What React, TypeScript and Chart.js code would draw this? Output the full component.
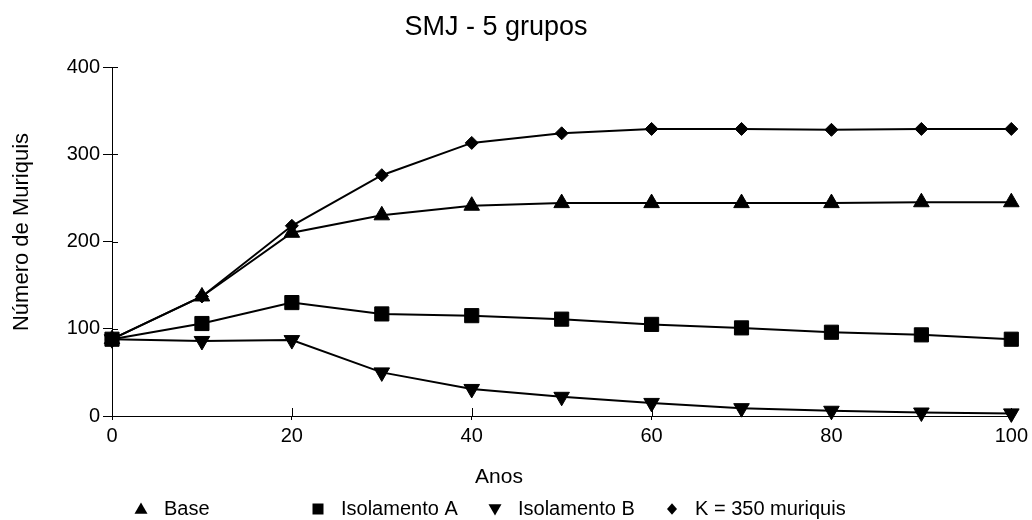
import { useEffect, useRef } from 'react';
import { Chart, registerables } from 'chart.js';

Chart.register(...registerables);

const years = [0, 10, 20, 30, 40, 50, 60, 70, 80, 90, 100];
const baseValues = [88, 137, 210, 230, 241, 244, 244, 244, 244, 245, 245];
const isolAValues = [88, 106, 130, 117, 115, 111, 105, 101, 96, 93, 88];
const isolBValues = [88, 86, 87, 50, 31, 22, 15, 9, 6, 4, 3];
const kValues = [88, 137, 218, 276, 313, 324, 329, 329, 328, 329, 329];
const seriesLabels = ['Base', 'Isolamento A', 'Isolamento B', 'K = 350 muriquis'];
const titleText = 'SMJ - 5 grupos';
const xTitle = 'Anos';
const yTitle = 'Número de Muriquis';

const FONT = '"Liberation Sans", Arial, Helvetica, sans-serif';

const toPoints = (vals: number[]) => vals.map((v, i) => ({ x: years[i], y: v }));

function drawMarker(ctx: CanvasRenderingContext2D, style: string, x: number, y: number, r: number) {
  ctx.beginPath();
  if (style === 'triangle') {
    ctx.moveTo(x, y - r);
    ctx.lineTo(x + r * 0.866, y + r / 2);
    ctx.lineTo(x - r * 0.866, y + r / 2);
  } else if (style === 'triangleDown') {
    ctx.moveTo(x, y + r);
    ctx.lineTo(x + r * 0.866, y - r / 2);
    ctx.lineTo(x - r * 0.866, y - r / 2);
  } else if (style === 'rect') {
    ctx.rect(x - r, y - r, 2 * r, 2 * r);
  } else {
    ctx.moveTo(x, y - r * 1.15);
    ctx.lineTo(x + r, y);
    ctx.lineTo(x, y + r * 1.15);
    ctx.lineTo(x - r, y);
  }
  ctx.closePath();
  ctx.fill();
}

const extrasPlugin = {
  id: 'extras',
  beforeDatasetsDraw(chart: any) {
    const ctx: CanvasRenderingContext2D = chart.ctx;
    const xs = chart.scales.x;
    const ys = chart.scales.y;
    ctx.save();
    ctx.strokeStyle = '#000';
    ctx.lineWidth = 1;
    ys.ticks.forEach((t: any) => {
      if (t.value === 0) return;
      const py = Math.round(ys.getPixelForValue(t.value)) + 0.5;
      ctx.beginPath();
      ctx.moveTo(chart.chartArea.left, py);
      ctx.lineTo(chart.chartArea.left + 6, py);
      ctx.stroke();
    });
    xs.ticks.forEach((t: any) => {
      if (t.value === 0) return;
      const px = Math.round(xs.getPixelForValue(t.value)) + 0.5;
      ctx.beginPath();
      ctx.moveTo(px, chart.chartArea.bottom);
      ctx.lineTo(px, chart.chartArea.bottom - 8);
      ctx.stroke();
    });
    ctx.restore();
  },
  afterDraw(chart: any) {
    const ctx: CanvasRenderingContext2D = chart.ctx;
    ctx.save();
    ctx.fillStyle = '#000';
    ctx.textAlign = 'center';
    ctx.textBaseline = 'middle';
    ctx.font = `27px ${FONT}`;
    ctx.fillText(titleText, 496, 28);

    ctx.font = `21px ${FONT}`;
    ctx.fillText(xTitle, 499, 477);

    ctx.save();
    ctx.translate(22, 232);
    ctx.rotate(-Math.PI / 2);
    ctx.font = `22px ${FONT}`;
    ctx.fillText(yTitle, 0, 0);
    ctx.restore();

    const styles = ['triangle', 'rect', 'triangleDown', 'diamond'];
    const sizes = [7.5, 5.5, 7.5, 5];
    ctx.font = `20px ${FONT}`;
    ctx.textAlign = 'left';
    chart.data.datasets.forEach((ds: any, i: number) => {
      const mx = 141 + i * 177;
      const my = 509;
      drawMarker(ctx, styles[i], mx, my + (styles[i] === 'triangle' ? 1 : styles[i] === 'triangleDown' ? -1 : 0), sizes[i]);
      ctx.fillText(ds.label, mx + 23, my);
    });
    ctx.restore();
  },
};

export default function App() {
  const ref = useRef<HTMLCanvasElement>(null);
  useEffect(() => {
    if (!ref.current) return;
    Chart.defaults.font.family = FONT;
    Chart.defaults.color = '#000';
    const common = {
      borderColor: '#000',
      backgroundColor: '#000',
      borderWidth: 2,
      pointBackgroundColor: '#000',
      pointBorderColor: '#000',
      pointBorderWidth: 1,
      tension: 0,
      fill: false,
      clip: false as const,
    };
    const chart = new Chart(ref.current, {
      type: 'line',
      data: {
        datasets: [
          { ...common, label: seriesLabels[0], data: toPoints(baseValues), pointStyle: 'triangle', pointRadius: 9 },
          { ...common, label: seriesLabels[1], data: toPoints(isolAValues), pointStyle: 'rect', pointRadius: 10 },
          { ...common, label: seriesLabels[2], data: toPoints(isolBValues), pointStyle: 'triangle', pointRotation: 180, pointRadius: 9 },
          { ...common, label: seriesLabels[3], data: toPoints(kValues), pointStyle: 'rectRot', pointRadius: 6.5 },
        ],
      },
      options: {
        responsive: false,
        animation: false,
        layout: { padding: { top: 67, right: 19, bottom: 0, left: 0 } },
        plugins: {
          legend: { display: false },
          title: { display: false },
          tooltip: { enabled: false },
        },
        scales: {
          x: {
            type: 'linear',
            min: 0,
            max: 100,
            afterFit: (s: any) => { s.height = 104; },
            ticks: { stepSize: 20, font: { size: 20 }, color: '#000', padding: 4, maxRotation: 0 },
            grid: { drawOnChartArea: false, drawTicks: true, tickLength: 4, color: '#000' },
            border: { display: true, color: '#000', width: 1 },
          },
          y: {
            type: 'linear',
            min: 0,
            max: 400,
            afterFit: (s: any) => { s.width = 112; },
            ticks: { stepSize: 100, font: { size: 20 }, color: '#000', padding: 3 },
            grid: { drawOnChartArea: false, drawTicks: true, tickLength: 9, color: '#000' },
            border: { display: true, color: '#000', width: 1 },
          },
        },
      },
      plugins: [extrasPlugin],
    });
    return () => chart.destroy();
  }, []);
  return (
    <div style={{ position: 'absolute', left: 0, top: 0, width: 1032, height: 520, background: '#fff' }}>
      <canvas ref={ref} width={1032} height={520} />
    </div>
  );
}
